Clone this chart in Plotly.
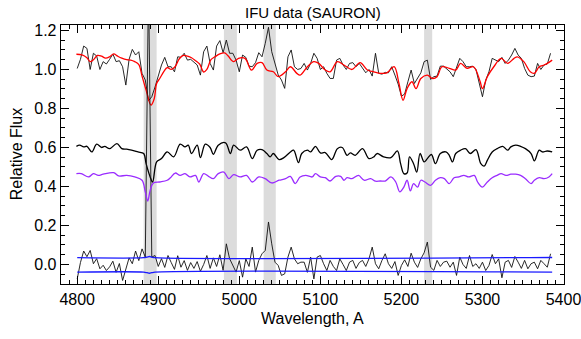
import numpy as np
import plotly.graph_objects as go

# ---------------- data ----------------
# observed spectrum and residuals on a regular 4 A grid
wave_start, wave_step = 4800, 4
flux_obs = [1.005, 1.052, 1.120, 1.108, 1.000, 1.083, 1.069, 1.000, 1.040, 1.028,
            1.052, 1.079, 1.040, 1.045, 1.014, 0.920, 1.052, 1.103, 1.074, 1.091,
            0.980, 0.946, 0.840, 0.860, 0.910, 0.971, 1.023, 1.062, 1.014, 1.014,
            0.988, 1.065, 1.062, 1.083, 1.048, 1.052, 1.035, 1.023, 0.971, 1.091,
            1.120, 1.031, 0.997, 1.120, 1.148, 1.086, 1.151, 1.083,
            1.083, 1.048, 0.988, 1.074, 1.062, 1.017, 1.014, 1.035, 1.086, 1.065,
            1.134, 1.216, 1.091, 1.028, 0.971, 0.946, 0.903, 1.065, 1.100, 1.014,
            1.000, 1.005, 1.031, 0.997, 1.031, 1.083, 1.057, 1.000, 1.014, 0.980,
            0.954, 0.954, 1.048, 1.057, 1.023, 1.000, 1.031, 1.035, 1.014, 1.031,
            1.005, 0.983, 1.000, 0.966, 1.083, 0.980, 0.976,
            0.985, 0.983, 1.014, 0.971, 0.925, 0.863, 0.874, 0.937, 0.997, 0.928,
            0.954, 0.983, 1.040, 1.048, 0.949, 0.963, 0.966, 1.017, 1.017, 1.000,
            0.988, 0.963, 1.014, 1.057, 1.040, 1.014, 1.014, 1.017, 1.000, 0.937,
            0.860, 0.945, 0.988, 1.057, 1.048, 1.040, 1.062, 1.031, 1.048, 1.074,
            1.108, 1.074, 1.057, 1.005, 0.971, 0.963, 0.966, 1.031, 1.000, 1.023,
            1.028, 1.083]
residual = [-0.074, 0.010, 0.069, 0.040, 0.072, 0.004, 0.030, -0.022, -0.004, -0.031,
            -0.012, 0.017, -0.040, 0.005, -0.082, -0.020, 0.034, 0.004, 0.069, 0.020,
            0.080, 0.038, 1.450, 0.038, 0.046, -0.010, 0.030, -0.015, 0.046, 0.010,
            -0.025, 0.045, -0.014, 0.020, -0.030, 0.010, -0.020, 0.015, -0.035, 0.000,
            0.046, -0.020, 0.034, -0.010, 0.050, -0.030, 0.106, 0.030,
            -0.005, -0.039, 0.020, -0.065, 0.029, -0.010, 0.089, -0.039, 0.021, 0.055,
            0.072, 0.218, 0.106, 0.012, -0.005, -0.056, -0.048, 0.038, 0.089, 0.029,
            0.004, 0.012, 0.012, -0.040, 0.038, -0.074, 0.038, 0.046, 0.004, -0.031,
            0.021, -0.010, -0.031, 0.029, 0.000, -0.031, 0.012, 0.021, -0.020, 0.010,
            0.021, -0.010, 0.029, 0.089, 0.004, -0.022, 0.021,
            0.055, 0.004, -0.020, 0.015, -0.056, -0.005, 0.024, -0.010, 0.058, 0.012,
            -0.015, 0.029, 0.060, 0.115, -0.014, -0.030, 0.021, -0.010, 0.012, 0.017,
            -0.014, 0.012, -0.056, 0.038, 0.000, -0.020, 0.046, -0.010, 0.004, -0.020,
            0.012, -0.031, -0.005, 0.051, 0.004, 0.029, -0.068, 0.012, 0.021, -0.015,
            0.041, 0.012, -0.020, 0.021, -0.022, 0.004, 0.012, -0.022, 0.021, 0.004,
            -0.014, 0.055]

# best-fitting model (red)
wave_fit = [4799, 4806, 4812, 4816, 4820, 4825, 4830, 4835, 4840, 4845, 4850, 4855,
            4861, 4866, 4871, 4876, 4880, 4885, 4891, 4895, 4898, 4902, 4907, 4911,
            4916, 4921, 4926, 4931, 4936, 4941, 4946, 4951, 4956, 4960, 4965, 4970,
            4976, 4982, 4986, 4993, 4999, 5007, 5015, 5022, 5028, 5034, 5042, 5048,
            5057, 5063, 5071, 5075, 5084, 5092, 5098, 5106, 5112, 5121, 5129, 5139,
            5149, 5158, 5166, 5174, 5182, 5191, 5197, 5202, 5207, 5213, 5218, 5224,
            5232, 5238, 5244, 5250, 5259, 5267, 5273, 5281, 5289, 5297, 5300, 5306,
            5314, 5323, 5331, 5339, 5343, 5351, 5359, 5364, 5370, 5376, 5380, 5386]
flux_fit = [1.078, 1.075, 1.060, 1.040, 1.050, 1.072, 1.068, 1.058, 1.065, 1.080,
            1.068, 1.058, 1.050, 1.048, 1.040, 1.025, 0.966, 0.894, 0.817, 0.850,
            0.928, 0.955, 0.990, 1.010, 1.000, 1.015, 1.055, 1.072, 1.068, 1.060,
            1.045, 1.028, 0.987, 1.000, 1.050, 1.065, 1.080, 1.085, 1.070, 1.040,
            1.057, 1.057, 0.997, 1.031, 1.035, 0.997, 0.988, 0.963, 0.988, 1.014,
            0.980, 0.971, 1.014, 1.040, 1.031, 0.997, 0.988, 1.040, 1.023, 1.000,
            1.035, 0.997, 0.988, 0.980, 0.983, 1.014, 0.928, 0.842, 0.902, 0.937,
            0.902, 0.954, 0.971, 0.954, 0.963, 1.014, 1.006, 0.997, 1.031, 1.006,
            1.014, 0.940, 0.902, 0.963, 1.014, 1.057, 1.031, 1.057, 1.065, 1.040,
            0.988, 0.980, 1.014, 1.023, 1.031, 1.048]

# template spectrum (black, offset)
wave_tpl = [4799, 4803, 4808, 4812, 4818, 4824, 4830, 4834, 4840, 4849, 4855, 4861,
            4867, 4875, 4882, 4885, 4890, 4893, 4898, 4904, 4911, 4919, 4927, 4933,
            4937, 4941, 4948, 4952, 4958, 4964, 4968, 4974, 4983, 4989, 4993, 5001,
            5009, 5016, 5022, 5028, 5034, 5038, 5042, 5049, 5055, 5063, 5067, 5073,
            5077, 5084, 5088, 5094, 5100, 5106, 5114, 5121, 5127, 5133, 5137, 5143,
            5152, 5160, 5166, 5170, 5178, 5187, 5195, 5199, 5203, 5207, 5210, 5215,
            5219, 5223, 5228, 5232, 5237, 5242, 5248, 5255, 5259, 5263, 5267, 5273,
            5279, 5285, 5292, 5298, 5302, 5306, 5312, 5318, 5325, 5331, 5335, 5341,
            5347, 5353, 5360, 5364, 5370, 5374, 5380, 5386]
flux_tpl = [0.606, 0.612, 0.603, 0.606, 0.577, 0.617, 0.600, 0.606, 0.594, 0.620,
            0.594, 0.591, 0.586, 0.577, 0.569, 0.517, 0.449, 0.423, 0.526, 0.543,
            0.577, 0.552, 0.617, 0.603, 0.612, 0.569, 0.612, 0.548, 0.617, 0.600,
            0.565, 0.612, 0.624, 0.569, 0.612, 0.586, 0.603, 0.543, 0.586, 0.589,
            0.569, 0.552, 0.569, 0.538, 0.548, 0.577, 0.586, 0.522, 0.569, 0.586,
            0.577, 0.606, 0.572, 0.574, 0.538, 0.594, 0.600, 0.560, 0.572, 0.560,
            0.594, 0.543, 0.552, 0.569, 0.552, 0.548, 0.582, 0.517, 0.466, 0.469,
            0.552, 0.517, 0.474, 0.569, 0.526, 0.543, 0.564, 0.517, 0.569, 0.577,
            0.560, 0.526, 0.569, 0.586, 0.594, 0.569, 0.589, 0.517, 0.504, 0.534,
            0.577, 0.594, 0.606, 0.586, 0.603, 0.612, 0.606, 0.594, 0.569, 0.531,
            0.586, 0.577, 0.582, 0.577]

# second template (purple)
wave_tp2 = [4799, 4805, 4814, 4820, 4826, 4832, 4845, 4851, 4861, 4871, 4880, 4884,
            4887, 4890, 4894, 4902, 4911, 4915, 4921, 4927, 4933, 4939, 4946, 4950,
            4956, 4962, 4968, 4974, 4981, 4987, 4993, 5001, 5009, 5016, 5024, 5032,
            5040, 5049, 5057, 5063, 5069, 5075, 5082, 5090, 5094, 5100, 5106, 5112,
            5119, 5125, 5129, 5133, 5139, 5147, 5154, 5162, 5168, 5174, 5180, 5187,
            5193, 5198, 5203, 5207, 5211, 5215, 5220, 5224, 5229, 5236, 5242, 5248,
            5253, 5259, 5265, 5271, 5277, 5283, 5290, 5294, 5300, 5306, 5312, 5318,
            5323, 5329, 5335, 5341, 5347, 5353, 5360, 5364, 5370, 5376, 5382, 5386]
flux_tp2 = [0.466, 0.466, 0.449, 0.466, 0.457, 0.463, 0.471, 0.454, 0.457, 0.449,
            0.432, 0.372, 0.325, 0.380, 0.418, 0.423, 0.432, 0.445, 0.469, 0.457,
            0.466, 0.449, 0.457, 0.423, 0.466, 0.452, 0.440, 0.466, 0.474, 0.440,
            0.461, 0.449, 0.457, 0.423, 0.449, 0.440, 0.418, 0.432, 0.440, 0.452,
            0.415, 0.449, 0.457, 0.449, 0.466, 0.449, 0.445, 0.428, 0.452, 0.452,
            0.432, 0.445, 0.440, 0.457, 0.432, 0.440, 0.427, 0.428, 0.428, 0.449,
            0.423, 0.372, 0.397, 0.432, 0.377, 0.415, 0.397, 0.432, 0.423, 0.406,
            0.432, 0.445, 0.440, 0.415, 0.445, 0.449, 0.457, 0.449, 0.457, 0.423,
            0.397, 0.423, 0.445, 0.457, 0.466, 0.457, 0.463, 0.463, 0.457, 0.440,
            0.415, 0.432, 0.445, 0.440, 0.449, 0.466]

# noise level (blue)
wave_err = [4800, 4882, 4886, 4889, 4892, 4896, 5386]
err_up = [0.035, 0.035, 0.038, 0.041, 0.038, 0.035, 0.036]
err_lo = [-0.039, -0.039, -0.042, -0.045, -0.042, -0.039, -0.039]

# masked wavelength regions
mask_lo = [4882, 4981, 5030, 5228]
mask_hi = [4898, 4997, 5045, 5238]

# x tick labels
x_ticks = [4800, 4900, 5000, 5100, 5200, 5300, 5400]

# ---------------- figure ----------------
wave_obs = wave_start + wave_step * np.arange(len(flux_obs))

fig = go.Figure()
fig.add_trace(go.Scatter(x=wave_obs, y=flux_obs, mode="lines",
                         line=dict(color="#111111", width=0.9)))
fig.add_trace(go.Scatter(x=wave_fit, y=flux_fit, mode="lines", line_shape="spline",
                         line=dict(color="#ff0000", width=1.3)))
fig.add_trace(go.Scatter(x=wave_tpl, y=flux_tpl, mode="lines", line_shape="spline",
                         line=dict(color="#000000", width=1.3)))
fig.add_trace(go.Scatter(x=wave_obs, y=residual, mode="lines",
                         line=dict(color="#111111", width=0.9)))
fig.add_trace(go.Scatter(x=wave_tp2, y=flux_tp2, mode="lines", line_shape="spline",
                         line=dict(color="#9a2cff", width=1.3)))
for e in (err_up, err_lo):
    fig.add_trace(go.Scatter(x=wave_err, y=e, mode="lines", line_shape="spline",
                             line=dict(color="#1a1aff", width=1.3)))

for lo, hi in zip(mask_lo, mask_hi):
    fig.add_shape(type="rect", xref="x", yref="paper", x0=lo, x1=hi, y0=0, y1=1,
                  fillcolor="#dcdcdc", line_width=0, layer="below")

font = "Liberation Sans, Arial, Helvetica, sans-serif"
axis_common = dict(showline=True, linecolor="black", linewidth=1.3, mirror="allticks",
                   ticks="inside", ticklen=8, tickwidth=1, tickcolor="black",
                   showgrid=False, zeroline=False, ticklabeloverflow="allow",
                   automargin=False,
                   tickfont=dict(family=font, size=16, color="black"))
fig.update_xaxes(range=[4780, 5400.6], tickmode="array", tickvals=x_ticks,
                 ticktext=[str(v) for v in x_ticks],
                 minor=dict(dtick=10, tick0=4800, ticks="inside", ticklen=4,
                            tickcolor="black", showgrid=False),
                 **axis_common)
fig.update_yaxes(range=[-0.1, 1.228], dtick=0.2, tick0=0, tickformat=".1f",
                 minor=dict(dtick=0.05, ticks="inside", ticklen=4, tickcolor="black",
                            showgrid=False),
                 **axis_common)

fig.update_layout(
    width=581, height=339,
    margin=dict(l=61, r=17, t=25, b=55, autoexpand=False),
    paper_bgcolor="white", plot_bgcolor="white",
    showlegend=False,
    font=dict(family=font, size=16, color="black"),
    annotations=[
        dict(text="IFU data (SAURON)", xref="paper", yref="paper", x=0.5, y=1.05,
             xanchor="center", yanchor="middle", showarrow=False,
             font=dict(family=font, size=15)),
        dict(text="Wavelength, A", xref="paper", yref="paper", x=0.5, y=-0.133,
             xanchor="center", yanchor="middle", showarrow=False,
             font=dict(family=font, size=16)),
        dict(text="Relative Flux", xref="paper", yref="paper", x=-0.088, y=0.5,
             xanchor="center", yanchor="middle", showarrow=False, textangle=-90,
             font=dict(family=font, size=16)),
    ],
)

fig.write_html("out.html",
               config={"displayModeBar": False, "staticPlot": True},
               post_script="document.body.style.margin='0px';"
                           "document.body.style.overflow='hidden';")
